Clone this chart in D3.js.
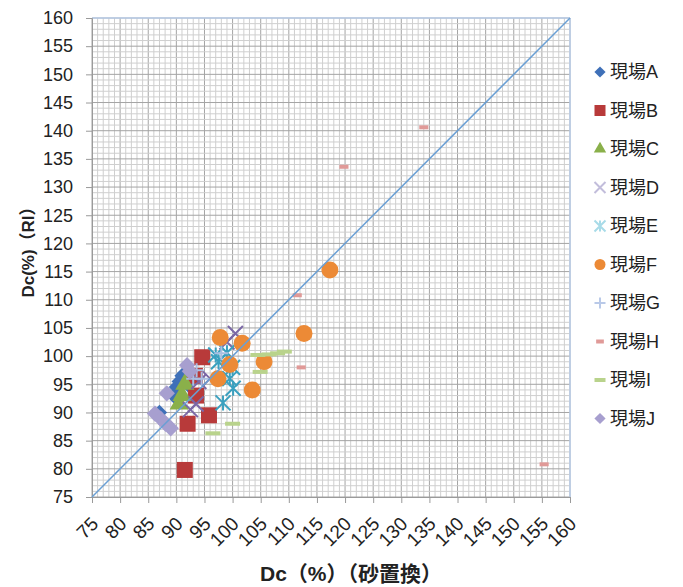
<!DOCTYPE html>
<html>
<head>
<meta charset="utf-8">
<script src="https://cdn.jsdelivr.net/npm/d3@7"></script>
<style>
  body { margin: 0; background: #fff; }
  text { font-family: "Liberation Sans", Arial, "Noto Sans CJK JP", sans-serif; fill: #222; }
</style>
</head>
<body>
<div id="chart"></div>
<script>
// ticks
var ticks = d3.range(75, 161, 5);

// site names
var sites = ["現場A", "現場B", "現場C", "現場D", "現場E", "現場F", "現場G", "現場H", "現場I", "現場J"];

// [Dc sand replacement, Dc RI]
var siteA = [[87, 90], [89.5, 93], [90, 94.5], [90.5, 95.5], [91, 96.5], [91.5, 97], [92, 95]];
var siteB = [[94.6, 99.8], [93.3, 96.5], [93.5, 93], [95.8, 89.5], [92, 88], [91.5, 79.8]];
var siteC = [[91.5, 95], [91, 93], [90.5, 91.5]];
var siteD = [[100.5, 104], [99, 102.5], [96, 96], [94, 95.5], [93.5, 91.5], [92.5, 90.5]];
var siteE = [[97, 100.2], [99, 100.6], [100, 98], [99.5, 96], [100.1, 94.3], [98.3, 91.7], [97.5, 99]];
var siteF = [[97.8, 103.3], [101.7, 102.3], [99.5, 98.5], [97.4, 96], [103.5, 94], [105.6, 99], [112.7, 104], [117.3, 115.3]];
var siteG = [[93, 96], [94.5, 96], [93.6, 97.5], [98, 100.5]];
var siteH = [[111.5, 110.8], [112.2, 98], [119.8, 133.6], [134, 140.6], [155.4, 80.8]];
var siteI = [[104.5, 100.2], [106.5, 100.3], [108, 100.5], [109.2, 100.8], [104.9, 97.2], [100, 88], [96.5, 86.3]];
var siteJ = [[88.3, 93.4], [86.2, 89.8], [87.2, 88.9], [88.1, 88], [89, 87.2], [91.9, 98.4], [92.4, 97.3]];

var seriesData = [siteA, siteB, siteC, siteD, siteE, siteF, siteG, siteH, siteI, siteJ];
var colors = ["#3f70b8", "#b83a3a", "#8ab04a", "#7b68a6", "#3aa0bf", "#ec8a36", "#aabfe2", "#e09a98", "#b9d38c", "#a79fcf"];
var legendColors = ["#3f70b8", "#b83a3a", "#8ab04a", "#c2bddb", "#a8dbe8", "#ec8a36", "#b9c9e8", "#e09a98", "#b9d38c", "#a79fcf"];
var shapes = ["diamond", "square", "triangle", "x", "star", "circle", "plus", "dashS", "dashL", "diamond"];

var width = 683, height = 587;
var svg = d3.select("#chart").append("svg")
    .attr("width", width)
    .attr("height", height);

var x = d3.scaleLinear().domain([75, 160]).range([92, 570]);
var y = d3.scaleLinear().domain([75, 160]).range([497, 18]);

// grid
var grid = svg.append("g");
grid.selectAll(".vminor").data(d3.range(75, 161, 1)).enter().append("line")
    .attr("x1", d => x(d)).attr("x2", d => x(d))
    .attr("y1", y(75)).attr("y2", y(160))
    .style("stroke", d => d % 5 == 0 ? "#a4a4a4" : "#cfcfcf")
    .style("stroke-width", 1);
grid.selectAll(".hminor").data(d3.range(75, 161, 1)).enter().append("line")
    .attr("y1", d => y(d)).attr("y2", d => y(d))
    .attr("x1", x(75)).attr("x2", x(160))
    .style("stroke", d => d % 5 == 0 ? "#a4a4a4" : "#cfcfcf")
    .style("stroke-width", 1);

// plot border (right/top light blue)
svg.append("line").attr("x1", x(160)).attr("x2", x(160)).attr("y1", y(75)).attr("y2", y(160))
    .style("stroke", "#b8cde8").style("stroke-width", 1.5);
svg.append("line").attr("x1", x(75)).attr("x2", x(160)).attr("y1", y(160)).attr("y2", y(160))
    .style("stroke", "#b8cde8").style("stroke-width", 1.5);

// axes
var xAxis = d3.axisBottom(x).tickValues(ticks).tickSize(6).tickPadding(4);
var yAxis = d3.axisLeft(y).tickValues(ticks).tickSize(6).tickPadding(4);

var gx = svg.append("g").attr("transform", "translate(0," + y(75) + ")").call(xAxis);
gx.select(".domain").style("stroke", "#9a9a9a");
gx.selectAll(".tick line").style("stroke", "#9a9a9a");
gx.selectAll(".tick text")
    .style("font-size", "19px")
    .attr("text-anchor", "end")
    .attr("transform", "translate(7,28) rotate(-45)")
    .attr("y", 0).attr("dy", 0).attr("x", 0);

var gy = svg.append("g").attr("transform", "translate(" + x(75) + ",0)").call(yAxis);
gy.select(".domain").style("stroke", "#9a9a9a");
gy.selectAll(".tick line").style("stroke", "#9a9a9a");
gy.selectAll(".tick text").style("font-size", "18px").attr("x", -19);

// marker drawing
function drawMarker(g, shape, color, s) {
  if (shape == "diamond") {
    g.append("rect").attr("x", -s * 0.36).attr("y", -s * 0.36).attr("width", s * 0.72).attr("height", s * 0.72)
      .attr("transform", "rotate(45)").style("fill", color);
  } else if (shape == "square") {
    g.append("rect").attr("x", -s / 2).attr("y", -s / 2).attr("width", s).attr("height", s).style("fill", color);
  } else if (shape == "triangle") {
    g.append("path").attr("d", d3.symbol().type(d3.symbolTriangle).size(s * s * 0.55)).style("fill", color);
  } else if (shape == "circle") {
    g.append("circle").attr("r", s / 2).style("fill", color);
  } else if (shape == "x") {
    var h = s / 2;
    g.append("path").attr("d", "M" + (-h) + "," + (-h) + "L" + h + "," + h + "M" + (-h) + "," + h + "L" + h + "," + (-h))
      .style("stroke", color).style("stroke-width", 2).style("fill", "none");
  } else if (shape == "star") {
    var h = s / 2;
    g.append("path").attr("d", "M" + (-h) + "," + (-h) + "L" + h + "," + h + "M" + (-h) + "," + h + "L" + h + "," + (-h) + "M0," + (-h) + "L0," + h)
      .style("stroke", color).style("stroke-width", 2).style("fill", "none");
  } else if (shape == "plus") {
    var h = s / 2;
    g.append("path").attr("d", "M" + (-h) + ",0L" + h + ",0M0," + (-h) + "L0," + h)
      .style("stroke", color).style("stroke-width", 2).style("fill", "none");
  } else if (shape == "dashS") {
    g.append("rect").attr("x", -s * 0.35).attr("y", -2).attr("width", s * 0.7).attr("height", 4).style("fill", color);
  } else if (shape == "dashL") {
    g.append("rect").attr("x", -s * 0.5).attr("y", -2).attr("width", s).attr("height", 4).style("fill", color);
  }
}

var plotSizes = [15, 16, 17, 15, 15, 17, 14, 13, 15, 16];

seriesData.forEach(function(data, i) {
  var layer = svg.append("g");
  data.forEach(function(d) {
    var g = layer.append("g").attr("transform", "translate(" + x(d[0]) + "," + y(d[1]) + ")");
    drawMarker(g, shapes[i], colors[i], plotSizes[i]);
  });
});

// 1:1 line
svg.append("line")
    .attr("x1", x(75)).attr("y1", y(75))
    .attr("x2", x(160)).attr("y2", y(160))
    .style("stroke", "#6a9fd4").style("stroke-width", 1.5);

// legend
var legend = svg.append("g");
sites.forEach(function(name, i) {
  var ly = 72 + i * 38.5;
  var g = legend.append("g").attr("transform", "translate(600," + ly + ")");
  drawMarker(g, shapes[i], legendColors[i], 11);
  legend.append("text").attr("x", 610).attr("y", ly).attr("dy", "0.36em")
    .style("font-size", "18px").text(name);
});

// axis titles
svg.append("text")
    .attr("transform", "translate(34,248) rotate(-90)")
    .attr("text-anchor", "middle")
    .style("font-size", "17px").style("font-weight", "bold")
    .text("Dc(%)（RI）");

svg.append("text")
    .attr("x", 351).attr("y", 581)
    .attr("text-anchor", "middle")
    .style("font-size", "21px").style("font-weight", "bold")
    .text("Dc（%）（砂置換）");
</script>
</body>
</html>
